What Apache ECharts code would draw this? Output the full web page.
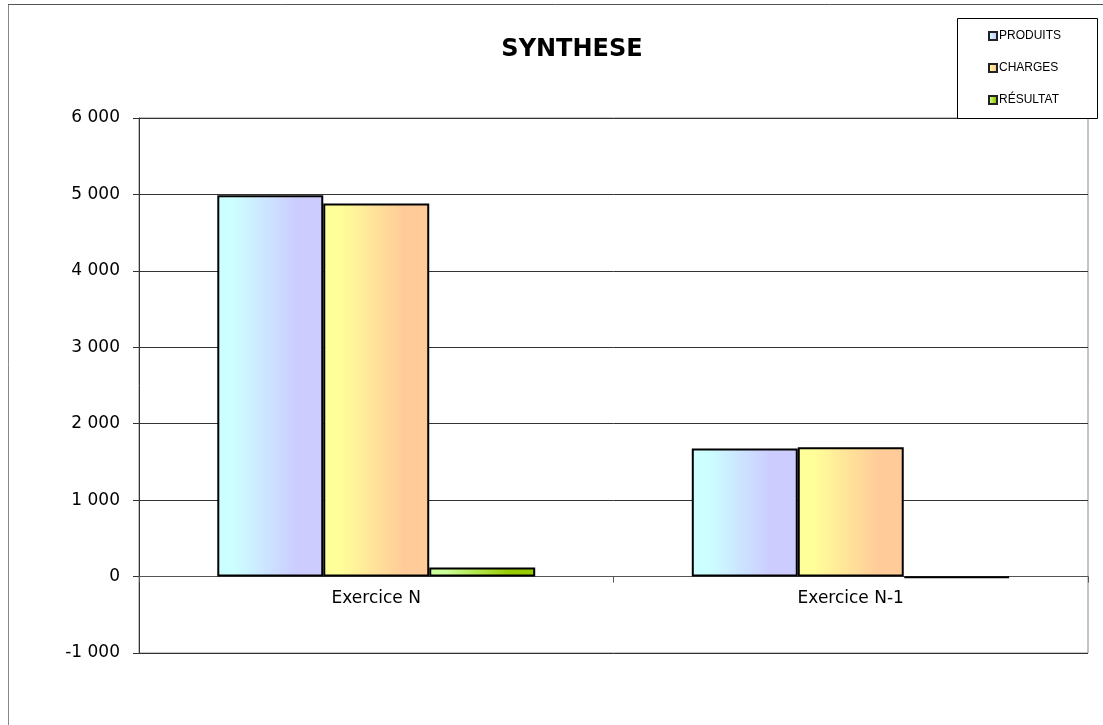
<!DOCTYPE html>
<html>
<head>
<meta charset="utf-8">
<script src="https://cdn.jsdelivr.net/npm/echarts@6/dist/echarts.min.js"></script>
<style>html,body{margin:0;padding:0;background:#fff}#c{width:1103px;height:725px}</style>
</head>
<body>
<div id="c"></div>
<script>
const categories = ['Exercice N', 'Exercice N-1'];
const produits = [4990, 1675];
const charges = [4880, 1692];
const resultat = [120, -15];
const seriesNames = ['PRODUITS', 'CHARGES', 'RÉSULTAT'];

const chart = echarts.init(document.getElementById('c'));
function grad(a, b) {
  return new echarts.graphic.LinearGradient(0, 0, 1, 0, [
    {offset: 0, color: a}, {offset: 0.15, color: a},
    {offset: 0.75, color: b}, {offset: 1, color: b}
  ]);
}
function fmt(v) {
  const s = Math.abs(v).toString().replace(/\B(?=(\d{3})+(?!\d))/g, ' ');
  return (v < 0 ? '-' : '') + s;
}
const barStyle = (a, b) => ({color: grad(a, b), borderColor: '#000', borderWidth: 2});
chart.setOption({
  animation: false,
  backgroundColor: '#fff',
  title: {
    text: 'SYNTHESE', left: 567, top: 33, textAlign: 'center',
    textStyle: {fontFamily: 'DejaVu Sans', fontWeight: 'bold', fontSize: 24, color: '#000'}
  },
  graphic: [
    {type: 'line', shape: {x1: 8.5, y1: 4, x2: 8.5, y2: 725}, style: {stroke: '#888', lineWidth: 1}},
    {type: 'line', shape: {x1: 8, y1: 4.5, x2: 1103, y2: 4.5}, style: {stroke: '#555', lineWidth: 1}},
    {type: 'rect', shape: {x: 957.5, y: 18.5, width: 140, height: 100}, style: {fill: '#fff', stroke: '#000', lineWidth: 1}, z: 10}
  ],
  legend: {
    orient: 'vertical', left: 983, top: 25, itemWidth: 8, itemHeight: 8, itemGap: 20, z: 20,
    icon: 'rect',
    data: seriesNames,
    itemStyle: {borderColor: '#222', borderWidth: 2},
    textStyle: {fontFamily: 'Liberation Sans', fontSize: 12, color: '#000', padding: [0, 0, 0, -3]}
  },
  grid: {left: 139, right: 15, top: 118, bottom: 72, show: true, borderColor: '#888', borderWidth: 1},
  xAxis: {
    type: 'category', data: categories,
    axisLine: {onZero: true, lineStyle: {color: '#555', width: 1}},
    axisTick: {show: true, length: 6, lineStyle: {color: '#555'}},
    axisLabel: {fontFamily: 'DejaVu Sans', fontSize: 17, color: '#000', margin: -63},
    splitLine: {show: false}
  },
  yAxis: {
    type: 'value', min: -1000, max: 6000, interval: 1000,
    axisLine: {show: true, lineStyle: {color: '#333', width: 1}},
    axisTick: {show: true, length: 6, lineStyle: {color: '#333'}},
    axisLabel: {fontFamily: 'DejaVu Sans', fontSize: 17, color: '#000', margin: 19, formatter: fmt},
    splitLine: {show: true, lineStyle: {color: '#333', width: 1}}
  },
  series: [
    {name: seriesNames[0], type: 'bar', data: produits, barGap: '0%', barCategoryGap: '33%',
     itemStyle: barStyle('#CCFFFF', '#CCCCFF')},
    {name: seriesNames[1], type: 'bar', data: charges,
     itemStyle: barStyle('#FFFF99', '#FFCC99')},
    {name: seriesNames[2], type: 'bar', data: resultat,
     itemStyle: barStyle('#CCFF99', '#99CC00')}
  ]
});
</script>
</body>
</html>
